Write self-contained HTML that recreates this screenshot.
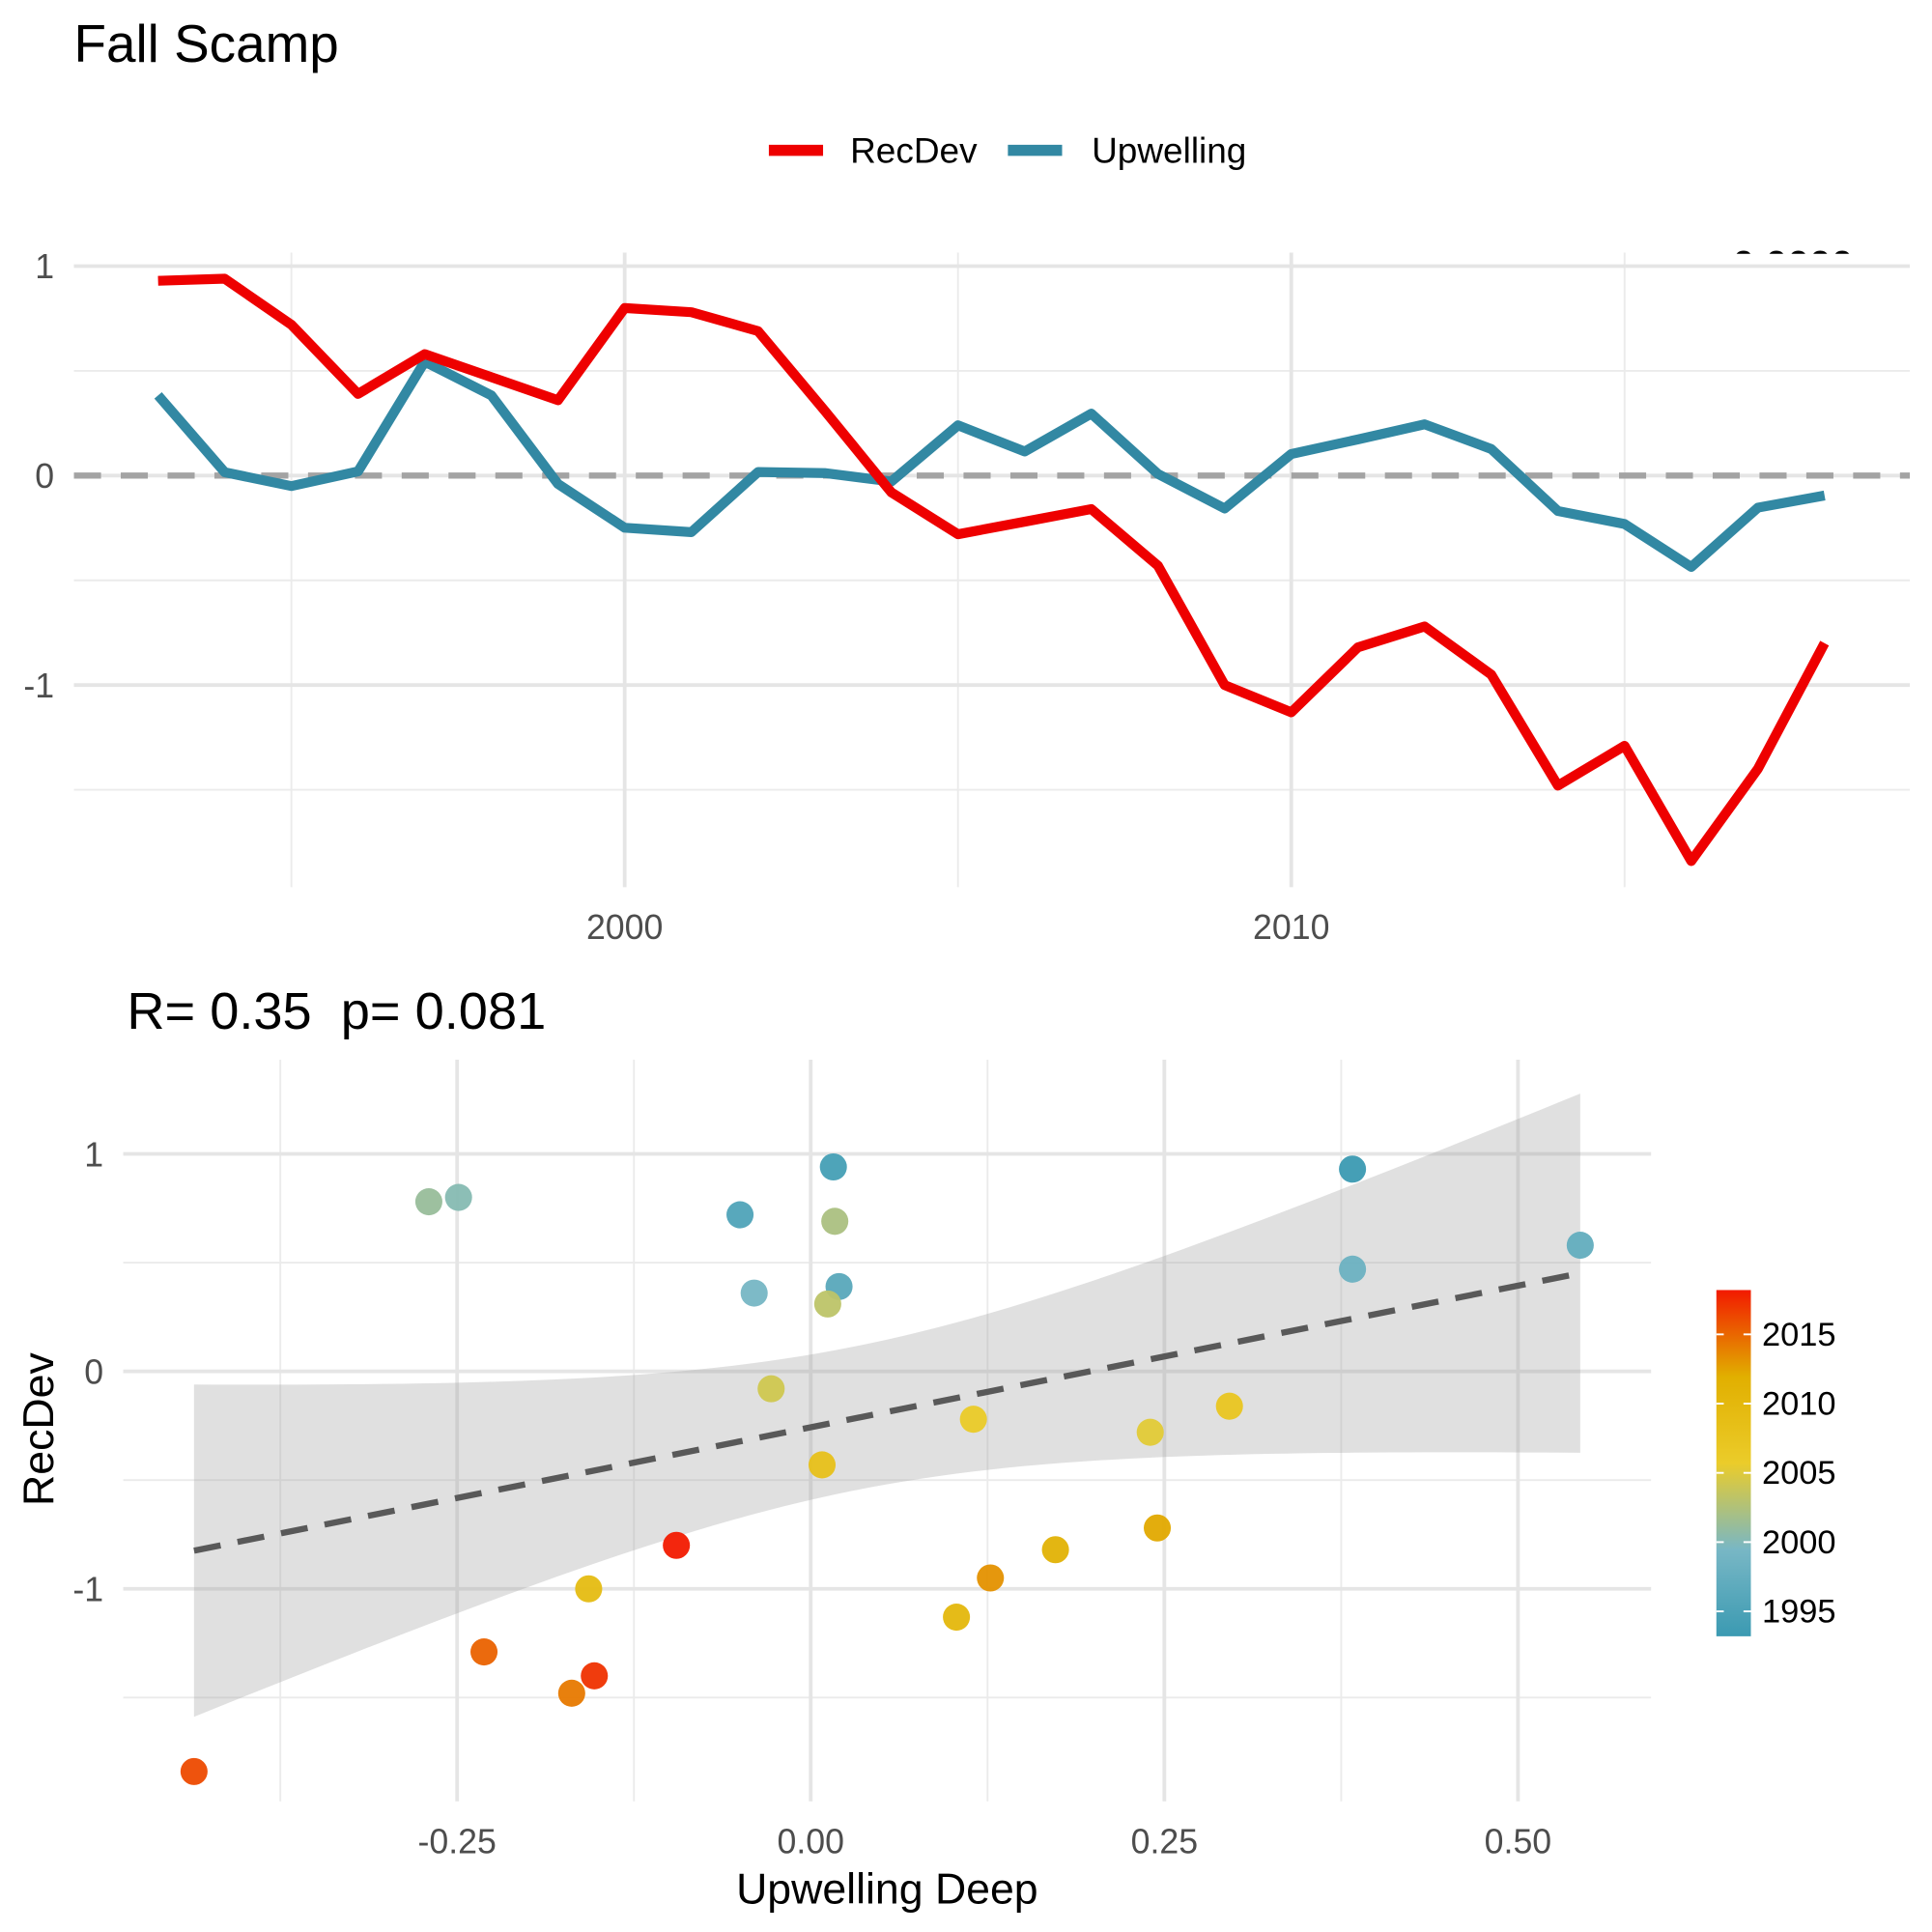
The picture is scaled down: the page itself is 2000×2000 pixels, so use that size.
<!DOCTYPE html>
<html><head><meta charset="utf-8"><style>
html,body{margin:0;padding:0;background:#fff}
svg{display:block;font-family:"Liberation Sans",sans-serif}
</style></head><body>
<svg id="chart" width="2000" height="2000" viewBox="0 0 1568 1568" xmlns="http://www.w3.org/2000/svg">
<defs>
<clipPath id="pclip"><rect x="1300" y="197" width="260" height="9"/></clipPath>
<linearGradient id="cbar" x1="0" y1="1" x2="0" y2="0">
<stop offset="0" stop-color="#3B9AB2"/><stop offset="0.25" stop-color="#78B7C5"/><stop offset="0.5" stop-color="#EBCC2A"/><stop offset="0.75" stop-color="#E1AF00"/><stop offset="1" stop-color="#F21A00"/>
</linearGradient>
</defs>
<text x="60" y="50" font-size="43" fill="#000">Fall Scamp</text>
<g>
<line x1="624" y1="122" x2="668" y2="122" stroke="#EE0000" stroke-width="9"/>
<text x="690" y="132" font-size="29" fill="#000">RecDev</text>
<line x1="818" y1="122" x2="862" y2="122" stroke="#3288A3" stroke-width="9"/>
<text x="886" y="132" font-size="29" fill="#000">Upwelling</text>
</g>
<g id="topPanel"></g>
<text x="1368" y="226" font-size="32" font-weight="bold" fill="#000" clip-path="url(#pclip)">p&lt;0.0000</text>
<text x="103" y="835" font-size="42.5" fill="#000">R=&#160;0.35&#160;&#160;p=&#160;0.081</text>
<g id="botPanel"></g>
<text x="720" y="1545" font-size="35" text-anchor="middle" fill="#000">Upwelling Deep</text>
<text x="0" y="0" font-size="35" text-anchor="middle" fill="#000" transform="translate(43,1160) rotate(-90)">RecDev</text>
<g>
<rect x="1393" y="1047" width="28" height="281" fill="url(#cbar)"/>
<g id="cbticks"></g>
</g>
</svg>
<script>
const years = [1993,1994,1995,1996,1997,1998,1999,2000,2001,2002,2003,2004,2005,2006,2007,2008,2009,2010,2011,2012,2013,2014,2015,2016,2017,2018];
const recDev = [0.93,0.94,0.72,0.39,0.58,0.47,0.36,0.80,0.78,0.69,0.31,-0.08,-0.28,-0.22,-0.16,-0.43,-1.0,-1.13,-0.82,-0.72,-0.95,-1.48,-1.29,-1.84,-1.40,-0.80];
const upwelling = [0.383,0.016,-0.05,0.02,0.544,0.383,-0.04,-0.249,-0.27,0.017,0.012,-0.028,0.24,0.115,0.296,0.008,-0.157,0.103,0.173,0.245,0.127,-0.169,-0.231,-0.436,-0.153,-0.095];
const topYTicks = [1,0,-1];
const topXTicks = [2000,2010];
const botXTicks = [-0.25,0,0.25,0.5];
const botXLabels = ["-0.25","0.00","0.25","0.50"];
const botYTicks = [1,0,-1];
const cbTicks = [1995,2000,2005,2010,2015];

const NS="http://www.w3.org/2000/svg";
function mk(tag,attrs,parent){const e=document.createElementNS(NS,tag);for(const k in attrs)e.setAttribute(k,attrs[k]);parent.appendChild(e);return e;}

const topG=document.getElementById('topPanel');
const tx=y=>507+(y-2000)*54.1;
const ty=v=>386-v*170;
[0.5,-0.5,-1.5].forEach(v=>{const l=mk('line',{x1:60,x2:1550,y1:ty(v),y2:ty(v),stroke:'#EBEBEB','stroke-width':1.5},topG);});
[1995,2005,2015].forEach(v=>{const l=mk('line',{x1:tx(v),x2:tx(v),y1:205,y2:720,stroke:'#EBEBEB','stroke-width':1.5},topG);});
topYTicks.forEach(v=>{const l=mk('line',{x1:60,x2:1550,y1:ty(v),y2:ty(v),stroke:'#E5E5E5','stroke-width':3},topG);
 const t=mk('text',{x:44,y:ty(v)+10,'font-size':28,fill:'#4D4D4D','text-anchor':'end'},topG);t.textContent=v;});
topXTicks.forEach(v=>{const l=mk('line',{x1:tx(v),x2:tx(v),y1:205,y2:720,stroke:'#E5E5E5','stroke-width':3},topG);
 const t=mk('text',{x:tx(v),y:762,'font-size':28,fill:'#4D4D4D','text-anchor':'middle'},topG);t.textContent=v;});
const zl=mk('line',{x1:60,x2:1550,y1:ty(0),y2:ty(0),stroke:'#A3A3A3','stroke-width':5,'stroke-dasharray':'22 16'},topG);


const pu=mk('polyline',{points:years.map((y,i)=>tx(y)+','+ty(upwelling[i])).join(' '),fill:'none',stroke:'#3288A3','stroke-width':8,'stroke-linejoin':'round'},topG);


const pr=mk('polyline',{points:years.map((y,i)=>tx(y)+','+ty(recDev[i])).join(' '),fill:'none',stroke:'#EE0000','stroke-width':8,'stroke-linejoin':'round'},topG);



const botG=document.getElementById('botPanel');
const bx=v=>658+v*1148;
const by=v=>1113-v*176.5;
[-0.375,-0.125,0.125,0.375].forEach(v=>{const l=mk('line',{x1:bx(v),x2:bx(v),y1:860,y2:1462,stroke:'#EBEBEB','stroke-width':1.5},botG);});
[0.5,-0.5,-1.5].forEach(v=>{const l=mk('line',{x1:100,x2:1340,y1:by(v),y2:by(v),stroke:'#EBEBEB','stroke-width':1.5},botG);});
botXTicks.forEach((v,i)=>{const l=mk('line',{x1:bx(v),x2:bx(v),y1:860,y2:1462,stroke:'#E5E5E5','stroke-width':3},botG);
 const t=mk('text',{x:bx(v),y:1504,'font-size':28,fill:'#4D4D4D','text-anchor':'middle'},botG);t.textContent=botXLabels[i];});
botYTicks.forEach(v=>{const l=mk('line',{x1:100,x2:1340,y1:by(v),y2:by(v),stroke:'#E5E5E5','stroke-width':3},botG);
 const t=mk('text',{x:84,y:by(v)+10,'font-size':28,fill:'#4D4D4D','text-anchor':'end'},botG);t.textContent=v;});
const n=upwelling.length;
const xm=upwelling.reduce((a,b)=>a+b,0)/n, ym=recDev.reduce((a,b)=>a+b,0)/n;
let sxx=0,sxy=0;for(let i=0;i<n;i++){sxx+=(upwelling[i]-xm)**2;sxy+=(upwelling[i]-xm)*(recDev[i]-ym);}
const slope=sxy/sxx, icpt=ym-slope*xm;
let sse=0;for(let i=0;i<n;i++)sse+=(recDev[i]-icpt-slope*upwelling[i])**2;
const sres=Math.sqrt(sse/(n-2)), tq=2.064;
const xmin=Math.min(...upwelling), xmax=Math.max(...upwelling);
const upPts=[],loPts=[];
for(let k=0;k<=80;k++){const x=xmin+(xmax-xmin)*k/80;const f=icpt+slope*x;const se=sres*Math.sqrt(1/n+(x-xm)**2/sxx);upPts.push(bx(x)+','+by(f+tq*se));loPts.unshift(bx(x)+','+by(f-tq*se));}
const rib=mk('polygon',{points:upPts.concat(loPts).join(' '),fill:'#999','fill-opacity':0.3},botG);


const rl=mk('line',{x1:bx(xmin),y1:by(icpt+slope*xmin),x2:bx(xmax),y2:by(icpt+slope*xmax),stroke:'#595959','stroke-width':5,'stroke-dasharray':'22 14'},botG);


const stops=[[59,154,178],[120,183,197],[235,204,42],[225,175,0],[242,26,0]];
function col(y){let t=(y-1993)/(2018-1993)*4;let i=Math.min(3,Math.floor(t));let f=t-i;const a=stops[i],b=stops[i+1];return 'rgb('+a.map((c,j)=>Math.round(c+(b[j]-c)*f)).join(',')+')';}
years.forEach((y,i)=>{const c=mk('circle',{cx:bx(upwelling[i]),cy:by(recDev[i]),r:11,fill:col(y),'fill-opacity':0.95},botG);
 
 });
const cb=document.getElementById('cbticks');
const cyf=y=>1328-(y-1993.2)*(281/25);
cbTicks.forEach(y=>{
 const a=mk('line',{x1:1393,x2:1399,y1:cyf(y),y2:cyf(y),stroke:'#fff','stroke-width':1.5},cb);
 const b=mk('line',{x1:1415,x2:1421,y1:cyf(y),y2:cyf(y),stroke:'#fff','stroke-width':1.5},cb);
 const t=mk('text',{x:1430,y:cyf(y)+9,'font-size':27,fill:'#000'},cb);t.textContent=y;});
</script>
</body></html>
